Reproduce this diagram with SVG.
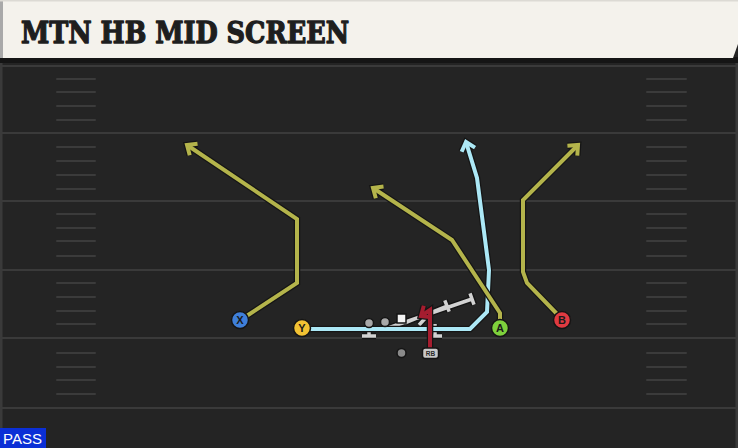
<svg xmlns="http://www.w3.org/2000/svg" width="738" height="448" viewBox="0 0 738 448">
<style>
.yl{stroke:#3a3a3a;stroke-width:2}
.hm{stroke:#3b3b3b;stroke-width:2;stroke-linecap:round}
.out{fill:none;stroke:#151515;stroke-width:6.5;stroke-linejoin:miter}
.rt{fill:none;stroke-width:4;stroke-linejoin:miter}
.ol{stroke:#b4b44b}
.cy{stroke:#ace8f6}
.rd{stroke:#a51d2f}
.gr{stroke:#d2d2d2}
.pl{stroke:#151515;stroke-width:1.5}
.lt{font-family:"Liberation Sans",Arial,sans-serif;font-weight:bold;font-size:11px;fill:#1a1a1a;text-anchor:middle}
</style>
<defs>
<marker id="mo" markerUnits="userSpaceOnUse" viewBox="-14 -12 20 24" markerWidth="20" markerHeight="24" refX="0" refY="0" orient="auto"><path d="M-8,-7 L0,0 L-8,7" fill="none" stroke="#151515" stroke-width="6.5"/></marker>
<marker id="mol" markerUnits="userSpaceOnUse" viewBox="-14 -12 20 24" markerWidth="20" markerHeight="24" refX="0" refY="0" orient="auto"><path d="M-8,-7 L0,0 L-8,7" fill="none" stroke="#b4b44b" stroke-width="4"/></marker>
<marker id="mcy" markerUnits="userSpaceOnUse" viewBox="-14 -12 20 24" markerWidth="20" markerHeight="24" refX="0" refY="0" orient="auto"><path d="M-8,-7 L0,0 L-8,7" fill="none" stroke="#ace8f6" stroke-width="4"/></marker>
<marker id="mrd" markerUnits="userSpaceOnUse" viewBox="-14 -12 20 24" markerWidth="20" markerHeight="24" refX="0" refY="0" orient="auto"><path d="M-8,-7 L0,0 L-8,7" fill="none" stroke="#a51d2f" stroke-width="4"/></marker>
</defs>
<!-- field -->
<rect x="0" y="0" width="738" height="448" fill="#242424"/>
<rect x="0" y="62" width="2.5" height="386" fill="#3a3a3a"/>
<rect x="735.5" y="62" width="2.5" height="386" fill="#3a3a3a"/>
<g id="yardlines">
<line class="yl" x1="2" y1="66" x2="736" y2="66"/>
<line class="yl" x1="2" y1="133" x2="736" y2="133"/>
<line class="yl" x1="2" y1="201" x2="736" y2="201"/>
<line class="yl" x1="2" y1="270" x2="736" y2="270"/>
<line class="yl" x1="2" y1="338" x2="736" y2="338"/>
<line class="yl" x1="2" y1="408" x2="736" y2="408"/>
</g>
<g id="hashes">
<path class="hm" d="M57,79H95M57,92H95M57,106H95M57,120H95M57,147H95M57,161H95M57,175H95M57,189H95M57,214H95M57,228H95M57,241H95M57,256H95M57,283H95M57,297H95M57,311H95M57,324H95M57,353H95M57,367H95M57,380H95M57,394H95"/>
<path class="hm" d="M647,79H686M647,92H686M647,106H686M647,120H686M647,147H686M647,161H686M647,175H686M647,189H686M647,214H686M647,228H686M647,241H686M647,256H686M647,283H686M647,297H686M647,311H686M647,324H686M647,353H686M647,367H686M647,380H686M647,394H686"/>
</g>
<!-- header -->
<g id="header">
<rect x="0" y="57" width="738" height="6" fill="#151515"/>
<path d="M0,0 H738 V44 L733,58 H0 Z" fill="#f4f2ec"/>
<rect x="0" y="0" width="3" height="58" fill="#a9a9a9"/>
<rect x="0" y="0" width="738" height="1.5" fill="#dcdad4"/>
<text x="21" y="43" font-family="DejaVu Serif,'Liberation Serif',serif" font-weight="bold" font-size="29" fill="#1e1e1e" stroke="#1e1e1e" stroke-width="1.3" stroke-linejoin="round" textLength="328" lengthAdjust="spacingAndGlyphs">MTN HB MID SCREEN</text>
</g>
<!-- connectors -->
<g id="connectors">
<g id="blocks">
<path class="out" d="M369,327V336M362,336H376M388,328L472,299M470,293.3L474,304.7M405,323L447,306M444.8,300.4L449.2,311.6M435,324V336M428,336H442M419,325L431,312"/>
<path class="rt gr" d="M369,327V336M362,336H376M388,328L472,299M470,293.3L474,304.7M405,323L447,306M444.8,300.4L449.2,311.6M435,324V336M428,336H442M419,325L431,312" style="stroke-width:3.5"/>
</g>
<path class="out" d="M245,317 L297,283 L297,219 L187,145" marker-end="url(#mo)"/>
<path class="rt ol" d="M245,317 L297,283 L297,219 L187,145" marker-end="url(#mol)"/>
<path class="out" d="M558,315 L527,283 L523,272 L523,200 L578,145" marker-end="url(#mo)"/>
<path class="rt ol" d="M558,315 L527,283 L523,272 L523,200 L578,145" marker-end="url(#mol)"/>
<path class="out" d="M309,329 L470,329 L487,312 L489,270 L477,178 L466,142" marker-end="url(#mo)"/>
<path class="rt cy" d="M309,329 L470,329 L487,312 L489,270 L477,178 L466,142" marker-end="url(#mcy)"/>
<path class="out" d="M500,321 L500,313 L452,240 L373,188" marker-end="url(#mo)"/>
<path class="rt ol" d="M500,321 L500,313 L452,240 L373,188" marker-end="url(#mol)"/>
<path class="out" d="M430,348 L430,310 L421,316" marker-end="url(#mo)"/>
<path class="rt rd" d="M430,348 L430,310 L421,316" marker-end="url(#mrd)"/>
</g>
<!-- line -->
<g id="LT"><circle cx="369" cy="323" r="4.5" fill="#a8a8a8" class="pl"/></g>
<g id="LG"><circle cx="385" cy="322" r="4.5" fill="#a8a8a8" class="pl"/></g>
<g id="C"><rect x="397" y="314" width="9" height="9" fill="#f4f4f4" class="pl"/></g>
<g id="QB"><circle cx="401.5" cy="353" r="4.5" fill="#8a8a8a" class="pl"/></g>
<g id="RB"><rect x="422.5" y="348" width="16" height="10.5" rx="2.5" fill="#c9c9c9" class="pl"/><text x="430.5" y="356.3" font-family="'Liberation Sans',Arial,sans-serif" font-weight="bold" font-size="6.5" fill="#2a2a2a" text-anchor="middle">RB</text></g>
<g id="X"><circle cx="240" cy="320" r="8.5" fill="#3f7fd9" class="pl"/><text class="lt" x="240" y="324">X</text></g>
<g id="Y"><circle cx="302" cy="328" r="8.5" fill="#f2c233" class="pl"/><text class="lt" x="302" y="332">Y</text></g>
<g id="A"><circle cx="500" cy="328" r="8.5" fill="#7ed13c" class="pl"/><text class="lt" x="500" y="332">A</text></g>
<g id="B"><circle cx="562" cy="320" r="8.5" fill="#e03a41" class="pl"/><text class="lt" x="562" y="324">B</text></g>
<g id="pass"><rect x="0" y="428" width="46" height="20" fill="#0b2fd6"/><text x="3" y="444" font-family="'Liberation Sans',Arial,sans-serif" font-size="15" fill="#ffffff">PASS</text></g>
</svg>
